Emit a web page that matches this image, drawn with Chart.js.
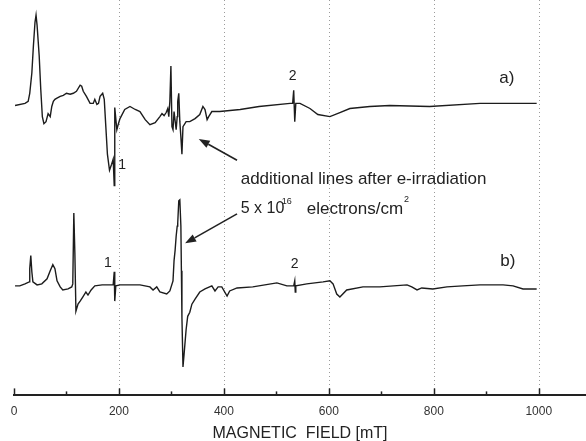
<!DOCTYPE html>
<html><head><meta charset="utf-8">
<script src="https://cdn.jsdelivr.net/npm/chart.js@4/dist/chart.umd.min.js"></script>
<style>html,body{margin:0;padding:0;background:#fff}#wrap{width:586px;height:441px;position:relative}</style>
</head><body><div id="wrap"><canvas id="c" width="586" height="441"></canvas></div>
<script>
// Magnetic field (mT) and signal (arb. units) of spectrum a)
const fieldA = [2,21,27,30,34,37,40,42,44,48,51,54,57,61,65,69,72,75,78,81,88,94,100,107,113,119,126,129,132,138,145,151,154,158,161,164,169,172,175,178,182,186,189,191,192,196,199,202,211,221,231,240,250,259,269,278,282,286,290,293,295,297,299,301,303,305,309,311,312,314,316,318,320,322,328,335,345,354,360,364,368,371,377,392,431,467,526,531,533,535,537,545,564,579,602,621,640,678,716,792,888,996];
const signalA = [0,2,4,12,32,59,82,89,79,49,16,-11,-18,-16,-8,-11,-1,4,6,7,9,10,12,11,12,14,20,19,14,9,2,2,6,1,2,9,12,6,-21,-48,-64,-58,-53,-79,-2,-24,-18,-13,-4,-1,-4,-6,-14,-19,-17,-11,-8,-10,-7,-3,-11,4,39,-21,-24,-6,-24,-11,4,12,-16,-31,-48,-21,-16,-16,-13,-9,-1,-4,-14,-11,-6,-6,-4,-1,2,2,15,-16,2,2,-3,-9,-11,-7,-3,-1,0,-1,2,2];
// Magnetic field (mT) and signal (arb. units) of spectrum b)
const fieldB = [2,11,21,29,30,32,34,36,44,53,63,69,74,78,82,88,93,103,110,112,114,116,118,122,126,131,137,141,147,154,168,179,189,191,192,194,202,240,259,265,272,278,291,297,303,305,307,309,311,312,314,316,318,319,320,322,324,328,331,335,339,345,354,364,377,383,389,396,406,411,425,455,501,520,533,535,536,537,558,589,602,608,615,621,634,665,697,749,758,768,777,798,825,855,888,932,951,970,996];
const signalB = [2,2,4,6,19,32,16,6,3,4,9,17,23,19,7,1,-2,-1,1,4,74,34,-23,-16,-13,-9,-4,-7,-2,2,3,3,3,16,-13,2,3,3,1,-2,1,-4,-6,-3,7,27,37,51,61,64,86,87,61,17,-29,-78,-66,-41,-28,-24,-16,-11,-4,-1,2,-3,1,1,-8,-3,0,1,5,2,2,7,-4,2,4,6,7,4,-6,-9,-2,1,1,3,1,-2,0,-1,1,2,3,3,2,-1,-1];
// Axis ticks
const xTickValues = [0,100,200,300,400,500,600,700,800,900,1000];
const xTickLabels = ["0","","200","","400","","600","","800","","1000"];
const xTitle = "MAGNETIC  FIELD [mT]";

const OFFSET_A = 286, OFFSET_B = 106;
const FONT = "'Liberation Sans', Arial, Helvetica, sans-serif";

const annotations = [
  {text:"a)", x:939, y:313, size:17, align:'center'},
  {text:"b)", x:941, y:132, size:17, align:'center'},
  {text:"1", x:206, y:227, size:14, align:'center'},
  {text:"2", x:531, y:315, size:14, align:'center'},
  {text:"1", x:179, y:130, size:14, align:'center'},
  {text:"2", x:535, y:129, size:14, align:'center'},
  {text:"additional lines after e-irradiation", x:432, y:213, size:17, align:'left'}
];
const arrows = [
  {from:[425,232], to:[352,253]},
  {from:[425,179], to:[326,150]}
];

const toPts = (xs, ys, off) => xs.map((x,i)=>({x:x, y:ys[i]+off}));

const overlay = {
  id:'overlay',
  beforeDatasetsDraw(chart){
    const {ctx, chartArea, scales:{x}} = chart;
    ctx.save();
    ctx.strokeStyle = '#9a9a9a'; ctx.lineWidth = 1; ctx.setLineDash([1,3]);
    xTickValues.forEach(v=>{
      if (v>0 && v%200===0){
        const px = Math.round(x.getPixelForValue(v))+0.5;
        ctx.beginPath(); ctx.moveTo(px, chartArea.top); ctx.lineTo(px, chartArea.bottom); ctx.stroke();
      }
    });
    ctx.restore();
  },
  afterDraw(chart){
    const {ctx, chartArea, scales:{x,y}} = chart;
    ctx.save();
    // inward tick marks
    ctx.strokeStyle = '#222'; ctx.lineWidth = 1.5; ctx.setLineDash([]);
    xTickValues.forEach(v=>{
      const px = Math.round(x.getPixelForValue(v))+0.5;
      const len = v%200===0 ? 7 : 4;
      ctx.beginPath(); ctx.moveTo(px, chartArea.bottom); ctx.lineTo(px, chartArea.bottom-len); ctx.stroke();
    });
    // text annotations
    ctx.fillStyle = '#222'; ctx.textBaseline = 'middle';
    annotations.forEach(a=>{
      ctx.font = a.size+'px '+FONT; ctx.textAlign = a.align;
      ctx.fillText(a.text, x.getPixelForValue(a.x), y.getPixelForValue(a.y));
    });
    // "5 x 10^16 electrons/cm^2"
    const lx0 = x.getPixelForValue(432), ly = y.getPixelForValue(184);
    ctx.textAlign = 'left';
    ctx.font = '16px '+FONT;
    ctx.fillText('5 x 10', lx0, ly);
    ctx.font = '9px '+FONT;
    ctx.fillText('16', lx0 + 41, ly-7);
    ctx.font = '17px '+FONT;
    const ex = lx0 + 66;
    ctx.fillText('electrons/cm', ex, ly);
    const ew = ctx.measureText('electrons/cm').width;
    ctx.font = '9px '+FONT;
    ctx.fillText('2', ex + ew + 1, ly-9);
    // arrows
    ctx.strokeStyle = '#222'; ctx.fillStyle = '#222'; ctx.lineWidth = 1.6;
    arrows.forEach(a=>{
      const x1 = x.getPixelForValue(a.from[0]), y1 = y.getPixelForValue(a.from[1]);
      const x2 = x.getPixelForValue(a.to[0]), y2 = y.getPixelForValue(a.to[1]);
      const ang = Math.atan2(y2-y1, x2-x1), hl = 11, hw = 4;
      const bx = x2 - hl*Math.cos(ang), by = y2 - hl*Math.sin(ang);
      ctx.beginPath(); ctx.moveTo(x1,y1); ctx.lineTo(bx,by); ctx.stroke();
      ctx.beginPath(); ctx.moveTo(x2,y2);
      ctx.lineTo(bx + hw*Math.sin(ang), by - hw*Math.cos(ang));
      ctx.lineTo(bx - hw*Math.sin(ang), by + hw*Math.cos(ang));
      ctx.closePath(); ctx.fill();
    });
    ctx.restore();
  }
};

new Chart(document.getElementById('c'), {
  type:'line',
  data:{datasets:[
    {label:'a)', data:toPts(fieldA, signalA, OFFSET_A)},
    {label:'b)', data:toPts(fieldB, signalB, OFFSET_B)}
  ]},
  options:{
    responsive:false, animation:false, devicePixelRatio:1,
    layout:{autoPadding:false, padding:{left:14, right:0, top:0, bottom:0}},
    elements:{line:{borderColor:'#1c1c1c', borderWidth:1.4, tension:0}, point:{radius:0}},
    plugins:{legend:{display:false}, tooltip:{enabled:false}},
    scales:{
      x:{type:'linear', min:0, max:1090,
        afterBuildTicks: s => { s.ticks = xTickValues.map(v=>({value:v})); },
        grid:{display:false, drawTicks:false},
        border:{display:true, color:'#222', width:2},
        ticks:{padding:9, color:'#333', font:{family:FONT, size:12}, maxRotation:0, autoSkip:false,
          callback:(v,i)=> xTickLabels[i]},
        title:{display:true, text:xTitle, color:'#222', font:{family:FONT, size:16}, padding:{top:-4, bottom:-2}}
      },
      y:{display:false, min:0, max:390}
    }
  },
  plugins:[overlay]
});
</script></body></html>
